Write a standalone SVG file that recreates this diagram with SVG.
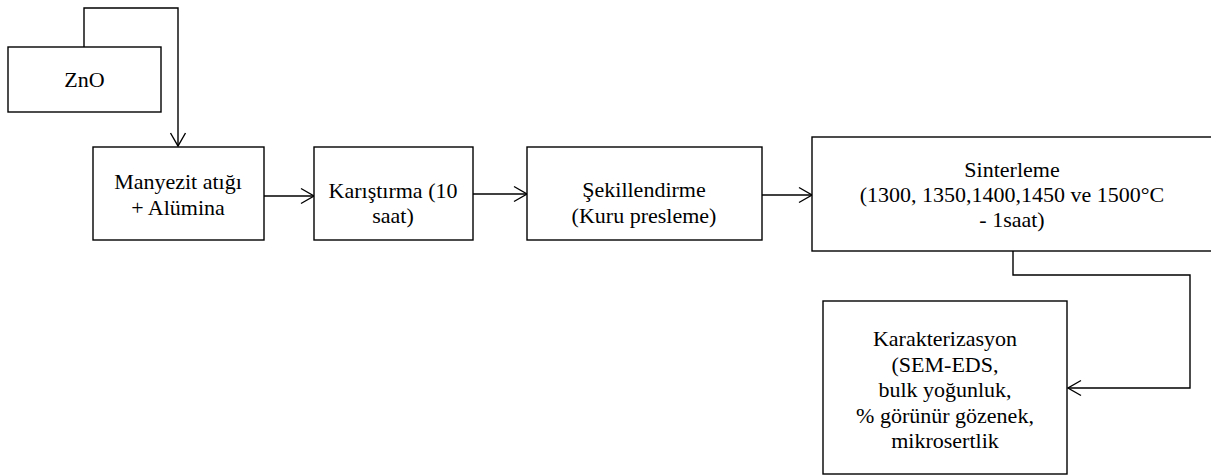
<svg xmlns="http://www.w3.org/2000/svg" width="1211" height="476" viewBox="0 0 1211 476">
<style>
.box{fill:#fff;stroke:#000;stroke-width:1.4}
.con{fill:none;stroke:#000;stroke-width:1.4}
.t{font-family:'Liberation Serif','Times New Roman',serif;font-size:22px;fill:#000;text-anchor:middle}
</style>
<defs>
<marker id="arr" markerUnits="userSpaceOnUse" markerWidth="16" markerHeight="18" refX="13" refY="8" orient="auto" overflow="visible">
<path d="M0,0.5 L13,8 L0,15.5" fill="none" stroke="#000" stroke-width="1.4"/>
</marker>
</defs>
<rect width="1211" height="476" fill="#fff"/>
<g id="connectors">
<polyline class="con" points="84,47 84,8 178,8 178,146" marker-end="url(#arr)"/>
<line class="con" x1="264" y1="196" x2="314" y2="196" marker-end="url(#arr)"/>
<line class="con" x1="473" y1="194" x2="527" y2="194" marker-end="url(#arr)"/>
<line class="con" x1="762" y1="195" x2="812" y2="195" marker-end="url(#arr)"/>
<polyline class="con" points="1013,251 1013,275 1190,275 1190,388 1068,388" marker-end="url(#arr)"/>
</g>
<g id="zno">
<rect class="box" x="8" y="47" width="153" height="65"/>
<text class="t" x="84.5" y="87">ZnO</text>
</g>
<g id="manyezit">
<rect class="box" x="93" y="147" width="171" height="93"/>
<text class="t" x="178" y="189">Manyezit atığı</text>
<text class="t" x="178" y="215">+ Alümina</text>
</g>
<g id="karistirma">
<rect class="box" x="314" y="147" width="159" height="93"/>
<text class="t" x="393" y="198">Karıştırma (10</text>
<text class="t" x="393" y="223">saat)</text>
</g>
<g id="sekillendirme">
<rect class="box" x="527" y="147" width="235" height="93"/>
<text class="t" x="644" y="197">Şekillendirme</text>
<text class="t" x="644" y="223">(Kuru presleme)</text>
</g>
<g id="sinterleme">
<rect class="box" x="812" y="137" width="410" height="114"/>
<text class="t" x="1012" y="177">Sinterleme</text>
<text class="t" x="1012" y="202">(1300, 1350,1400,1450 ve 1500°C</text>
<text class="t" x="1012" y="227">- 1saat)</text>
</g>
<g id="karakterizasyon">
<rect class="box" x="823" y="301" width="244" height="173"/>
<text class="t" x="945" y="346">Karakterizasyon</text>
<text class="t" x="945" y="372">(SEM-EDS,</text>
<text class="t" x="945" y="397">bulk yoğunluk,</text>
<text class="t" x="945" y="423">% görünür gözenek,</text>
<text class="t" x="945" y="448">mikrosertlik</text>
</g>
</svg>
